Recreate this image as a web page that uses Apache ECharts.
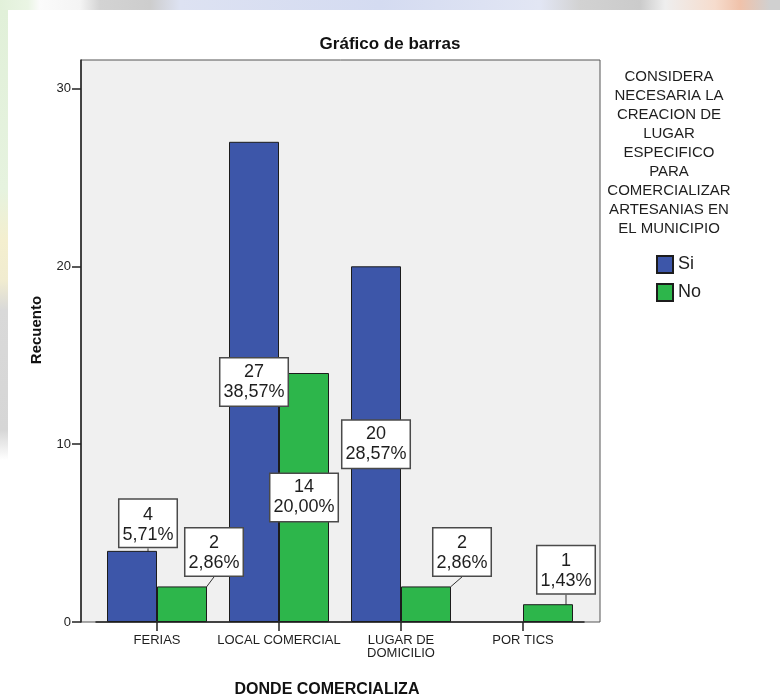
<!DOCTYPE html>
<html>
<head>
<meta charset="utf-8">
<script src="https://cdn.jsdelivr.net/npm/echarts@6/dist/echarts.min.js"></script>
<style>
  html, body { margin: 0; padding: 0; width: 780px; height: 698px; overflow: hidden; background: #fff; }
  #stripTop { position: absolute; left: 0; top: 0; width: 780px; height: 10px;
    background: linear-gradient(to right, #e2f1da 0px, #eaf5e4 28px, #fbfbfb 40px, #f4f4f4 80px, #d3d3d3 100px, #cdcdcd 150px,
      #dde2f2 180px, #d4dbf1 380px, #e2e6f4 540px, #d2d2d2 580px, #cbcbcb 640px, #eeeeee 665px, #f6dccd 715px, #f0c2aa 740px, #d0d0d0 770px); }
  #stripLeft { position: absolute; left: 0; top: 10px; width: 8px; height: 688px;
    background: linear-gradient(to bottom, #e1f0d9 0px, #e6f3df 180px, #f4efcf 230px, #f1ecd0 270px, #d9d9d9 300px, #d6d6d6 420px, #ffffff 450px); }
  #chart { position: absolute; left: 0; top: 0; width: 780px; height: 698px; }
</style>
</head>
<body>
<div id="stripTop"></div>
<div id="stripLeft"></div>
<div id="chart"></div>
<script>
// Donde comercializa x Considera necesaria la creación de lugar específico
const categories = ['FERIAS', 'LOCAL COMERCIAL', 'LUGAR DE\nDOMICILIO', 'POR TICS'];
const siCounts = [4, 27, 20, 0];
const noCounts = [2, 14, 2, 1];
const totalCases = 70;
const legendTitleLines = ['CONSIDERA', 'NECESARIA LA', 'CREACION DE', 'LUGAR', 'ESPECIFICO', 'PARA',
  'COMERCIALIZAR', 'ARTESANIAS EN', 'EL MUNICIPIO'];

// callout placement for short bars: [dx, gap above bar]; null = label centred inside the bar
const calloutShift = {
  Si: [[16, 4], null, null, null],
  No: [[32, 11], null, [36, 11], [18, 11]]
};

const FONT = '"Liberation Sans", Arial, sans-serif';
const Y_MAX = 31.6;

function pct(v) {
  return (v / totalCases * 100).toFixed(2).replace('.', ',') + '%';
}

function buildData(values, shifts) {
  return values.map(function (v, i) {
    if (v === 0) return '-';
    const callout = !!shifts[i];
    return {
      value: v,
      label: { position: callout ? 'top' : 'inside', distance: 0 },
      labelLine: { show: callout }
    };
  });
}

function makeSeries(name, values, color) {
  const shifts = calloutShift[name];
  return {
    name: name,
    type: 'bar',
    xAxisIndex: 1,
    yAxisIndex: 1,
    barWidth: 50,
    barGap: '0%',
    itemStyle: { color: color, borderColor: '#1c1c1c', borderWidth: 1 },
    data: buildData(values, shifts),
    label: {
      show: true,
      formatter: function (p) { return p.value + '\n' + pct(p.value); },
      fontFamily: FONT,
      fontSize: 18,
      lineHeight: 20,
      color: '#1e1e1e',
      backgroundColor: '#ffffff',
      borderColor: '#4a4a4a',
      borderWidth: 1.5,
      padding: [5, 3, 2, 3],
      align: 'center'
    },
    labelLayout: function (p) {
      const s = shifts[p.dataIndex];
      return s ? { dx: s[0], dy: -s[1] } : {};
    },
    labelLine: { show: false, lineStyle: { color: '#333', width: 1 } },
    animation: false
  };
}

const chart = echarts.init(document.getElementById('chart'), null, { renderer: 'canvas' });

chart.setOption({
  backgroundColor: 'transparent',
  animation: false,
  title: {
    text: 'Gráfico de barras',
    left: 'center',
    top: 31,
    textStyle: { fontFamily: FONT, fontSize: 17, fontWeight: 'bold', color: '#111' }
  },
  legend: {
    data: ['Si', 'No'],
    orient: 'vertical',
    left: 651,
    top: 250,
    itemWidth: 16,
    itemHeight: 17,
    itemGap: 9,
    icon: 'rect',
    textStyle: { fontFamily: FONT, fontSize: 18, color: '#1e1e1e' }
  },
  grid: [
    { left: 81, top: 60, width: 519, height: 562, show: true, backgroundColor: '#f0f0f0',
      borderColor: '#555', borderWidth: 1 },
    { left: 96, top: 60, width: 488, height: 562 }
  ],
  xAxis: [
    { gridIndex: 0, type: 'value', show: false, min: 0, max: 1 },
    {
      gridIndex: 1,
      type: 'category',
      data: categories,
      axisLine: { show: true, lineStyle: { color: '#222', width: 1.5 } },
      axisTick: { show: true, alignWithLabel: true, length: 9, lineStyle: { color: '#222', width: 1.5 } },
      axisLabel: { interval: 0, margin: 12, fontFamily: FONT, fontSize: 13, lineHeight: 13, color: '#1e1e1e' }
    }
  ],
  yAxis: [
    {
      gridIndex: 0,
      type: 'value',
      min: 0,
      max: Y_MAX,
      interval: 10,
      axisLine: { show: true, lineStyle: { color: '#222', width: 1.5 } },
      axisTick: { show: true, length: 9, lineStyle: { color: '#222', width: 1.5 } },
      axisLabel: { margin: 10, fontFamily: FONT, fontSize: 13, color: '#222',
        showMaxLabel: false },
      splitLine: { show: false }
    },
    { gridIndex: 1, type: 'value', min: 0, max: Y_MAX, show: false, splitLine: { show: false } }
  ],
  graphic: [
    { type: 'rect', left: 8, top: 10, z: -10, shape: { width: 772, height: 688 }, style: { fill: '#ffffff' } },
    {
      type: 'text', x: 669, y: 67,
      style: { text: legendTitleLines.join('\n'), textAlign: 'center', font: '15px ' + FONT,
        lineHeight: 19, fill: '#1e1e1e' }
    },
    {
      type: 'text', x: 37, y: 330, rotation: Math.PI / 2,
      style: { text: 'Recuento', textAlign: 'center', textVerticalAlign: 'middle',
        font: 'bold 15px ' + FONT, fill: '#111' }
    },
    {
      type: 'text', x: 327, y: 690,
      style: { text: 'DONDE COMERCIALIZA', textAlign: 'center', textVerticalAlign: 'middle',
        font: 'bold 16px ' + FONT, fill: '#111' }
    }
  ],
  series: [
    makeSeries('Si', siCounts, '#3d56a9'),
    makeSeries('No', noCounts, '#2db64b')
  ]
});
</script>
</body>
</html>
